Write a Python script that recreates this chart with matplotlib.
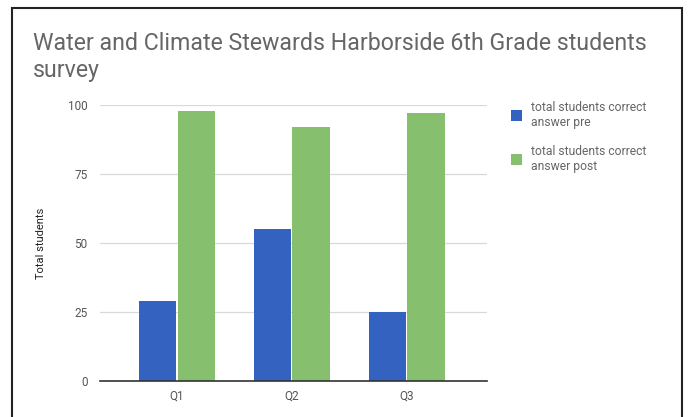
import matplotlib.pyplot as plt
import numpy as np
from matplotlib.patches import Rectangle

questions = ["Q1", "Q2", "Q3"]
pre_values = [29, 55, 25]
post_values = [98, 92, 97]
series_labels = ["total students correct\nanswer pre", "total students correct\nanswer post"]
y_ticks = [0, 25, 50, 75, 100]

plt.rcParams['font.family'] = ['Roboto', 'DejaVu Sans']

fig = plt.figure(figsize=(6.91, 4.17), dpi=100)
ax = fig.add_axes([100 / 691, 1 - 381 / 417, 387 / 691, 276 / 417])

x = np.arange(len(questions))
w = 0.325
ax.bar(x - w / 2 - 0.005, pre_values, w, color="#3462c0", label=series_labels[0])
ax.bar(x + w / 2 + 0.005, post_values, w, color="#86c06f", label=series_labels[1])

ax.set_xlim(-0.67, 2.7)
ax.set_ylim(0, 100)
ax.set_yticks(y_ticks)
ax.set_xticks(x)
ax.set_xticklabels(questions)
ax.yaxis.grid(True, color="#d9d9d9", linewidth=0.9)
ax.set_axisbelow(True)
for s in ["top", "right", "left"]:
    ax.spines[s].set_visible(False)
ax.spines["bottom"].set_color("#333333")
ax.spines["bottom"].set_linewidth(1.2)
ax.tick_params(axis="both", length=0, labelsize=8.5, colors="#555555", pad=9)
ax.tick_params(axis="x", pad=6)
ax.set_ylabel("Total students", fontsize=8, color="#222222", labelpad=16)

fig.text(33 / 691, 1 - 57 / 417, "Water and Climate Stewards Harborside 6th Grade students\nsurvey",
         fontsize=16.7, color="#666666", va="center", ha="left", linespacing=1.2)

fig.legend(loc="upper left", bbox_to_anchor=(500 / 691, 1 - 90 / 417), frameon=False,
           fontsize=8.7, labelcolor="#666666", handlelength=0.9, handleheight=1.0,
           labelspacing=1.3, handletextpad=0.8)

fig.patches.append(Rectangle((12 / 691, -0.05), 670 / 691, 1.05 - 8 / 417, transform=fig.transFigure,
                             fill=False, edgecolor="#222222", linewidth=1.5))

fig.savefig("out.png", dpi=100)
